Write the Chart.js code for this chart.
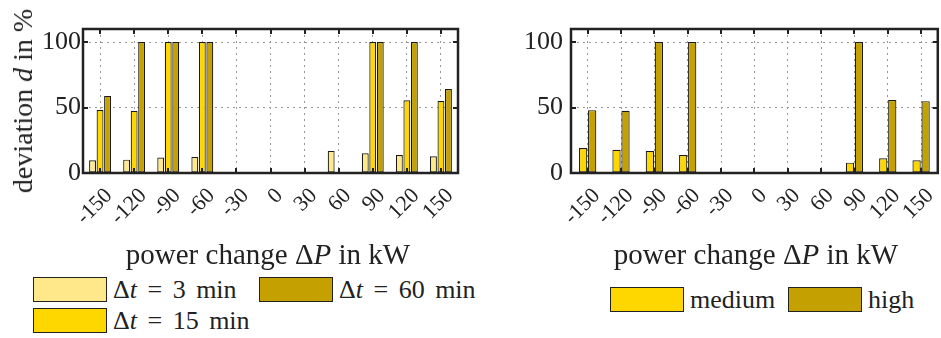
<!DOCTYPE html>
<html>
<head>
<meta charset="utf-8">
<script src="https://cdn.jsdelivr.net/npm/chart.js@4.4.1/dist/chart.umd.min.js"></script>
<style>
  body { margin: 0; width: 941px; height: 338px; overflow: hidden; background: #fff;
         position: relative; font-family: "Liberation Serif", "DejaVu Serif", serif; color: #222; }
  canvas { position: absolute; top: 0; }
  #leftChart { left: 0; }
  #rightChart { left: 480px; }
  .ytitle { position: absolute; left: 23px; top: 101px; font-size: 28px; white-space: nowrap;
            transform: translate(-50%, -50%) rotate(-90deg); }
  .xtitle { position: absolute; top: 254px; font-size: 29px; white-space: nowrap;
            transform: translate(-50%, -50%); }
  .item { position: absolute; display: flex; align-items: center; height: 25px; line-height: 25px;
          font-size: 26px; white-space: nowrap; }
  .swatch { width: 72px; height: 23px; border: 1px solid #222; margin-right: 6px; }
  .wide { word-spacing: 4px; }
</style>
</head>
<body>
<canvas id="leftChart" width="480" height="240"></canvas>
<canvas id="rightChart" width="470" height="240"></canvas>

<div class="ytitle">deviation <i>d</i> in %</div>
<div class="xtitle" style="left:268px">power change &Delta;<i>P</i> in kW</div>
<div class="xtitle" style="left:756px">power change &Delta;<i>P</i> in kW</div>
<div id="legends"></div>

<script>
const powerSteps = ["-150", "-120", "-90", "-60", "-30", "0", "30", "60", "90", "120", "150"];
const yTicks = [0, 50, 100];

// left chart: deviation per time step
const dev3min = [9.7, 10.2, 11.8, 12.3, null, null, null, 16.9, 15.1, 13.8, 12.8];
const dev15min = [48.1, 47.6, 100, 100, null, null, null, null, 100, 55.5, 55];
const dev60min = [58.9, 100, 100, 100, null, null, null, null, 100, 100, 64.2];

// right chart: deviation per level
const devMedium = [19.1, 17.8, 16.8, 13.8, null, null, null, null, 7.9, 11.2, 9.7];
const devHigh = [48, 47.5, 100, 100, null, null, null, null, 100, 55.7, 54.9];

const lightGold = "#FFE88A";
const gold = "#FFD700";
const darkGold = "#C4A000";
const ink = "#222";
const serif = "'Liberation Serif', 'Times New Roman', serif";

Chart.defaults.font.family = serif;

// frame round the plot and small ticks pointing inwards
const frameTicks = {
  id: "frameTicks",
  afterDraw(chart) {
    const { ctx, chartArea: a, scales } = chart;
    ctx.save();
    ctx.strokeStyle = ink;
    ctx.lineWidth = 2;
    ctx.beginPath();
    scales.x.ticks.forEach((t, i) => {
      const x = Math.round(scales.x.getPixelForTick(i));
      ctx.moveTo(x, a.top); ctx.lineTo(x, a.top + 5);
      ctx.moveTo(x, a.bottom); ctx.lineTo(x, a.bottom - 5);
    });
    scales.y.ticks.forEach((t, i) => {
      const y = Math.round(scales.y.getPixelForTick(i));
      ctx.moveTo(a.left, y); ctx.lineTo(a.left + 5, y);
      ctx.moveTo(a.right, y); ctx.lineTo(a.right - 5, y);
    });
    ctx.stroke();
    ctx.lineWidth = 2.5;
    ctx.strokeRect(a.left, a.top, a.right - a.left, a.bottom - a.top);
    ctx.restore();
  }
};

function makeChart(id, datasets, opts) {
  return new Chart(document.getElementById(id), {
    type: "bar",
    data: { labels: powerSteps, datasets: datasets },
    plugins: [frameTicks],
    options: {
      responsive: false,
      animation: false,
      layout: { padding: { top: 29, right: opts.padRight, left: 0, bottom: 0 } },
      datasets: { bar: { categoryPercentage: opts.catPct, barPercentage: 0.92,
                         borderColor: "#1a1a1a", borderWidth: 1.2, borderSkipped: false } },
      plugins: { legend: { display: false }, tooltip: { enabled: false } },
      scales: {
        x: {
          grid: { offset: false, color: "#999", lineWidth: 1, drawTicks: false },
          border: { display: false, dash: [2, 4] },
          ticks: { autoSkip: false, minRotation: 45, maxRotation: 45, padding: 10, labelOffset: 9,
                   color: ink, font: { family: serif, size: 22 } },
          afterFit: s => { s.height = 67; }
        },
        y: {
          min: 0, max: 110,
          grid: { color: "#999", lineWidth: 1, drawTicks: false },
          border: { display: false, dash: [2, 4] },
          ticks: { padding: opts.yPad, color: ink, font: { family: serif, size: 26 } },
          afterBuildTicks: s => { s.ticks = yTicks.map(v => ({ value: v })); },
          afterFit: s => { s.width = opts.yWidth; }
        }
      }
    }
  });
}

const leftChart = makeChart("leftChart", [
  { label: "Δt = 3 min", data: dev3min, backgroundColor: lightGold },
  { label: "Δt = 15 min", data: dev15min, backgroundColor: gold },
  { label: "Δt = 60 min", data: dev60min, backgroundColor: darkGold }
], { padRight: 22, yWidth: 83, yPad: 2, catPct: 0.66 });

const rightChart = makeChart("rightChart", [
  { label: "medium", data: devMedium, backgroundColor: gold },
  { label: "high", data: devHigh, backgroundColor: darkGold }
], { padRight: 5, yWidth: 91, yPad: 8, catPct: 0.54 });

// html legends built from the datasets (italic t needs html)
const legendSpots = [
  { chart: leftChart, idx: 0, left: 33, top: 277 },
  { chart: leftChart, idx: 2, left: 259, top: 277 },
  { chart: leftChart, idx: 1, left: 33, top: 308 },
  { chart: rightChart, idx: 0, left: 610, top: 287 },
  { chart: rightChart, idx: 1, left: 788, top: 287 }
];
const legendBox = document.getElementById("legends");
legendSpots.forEach(spot => {
  const ds = spot.chart.data.datasets[spot.idx];
  const item = document.createElement("div");
  item.className = "item";
  item.style.left = spot.left + "px";
  item.style.top = spot.top + "px";
  const sw = document.createElement("div");
  sw.className = "swatch";
  sw.style.background = ds.backgroundColor;
  const txt = document.createElement("span");
  if (ds.label.startsWith("Δt")) txt.className = "wide";
  txt.innerHTML = ds.label.replace("Δt", "Δ<i>t</i>");
  item.appendChild(sw);
  item.appendChild(txt);
  legendBox.appendChild(item);
});
</script>
</body>
</html>
